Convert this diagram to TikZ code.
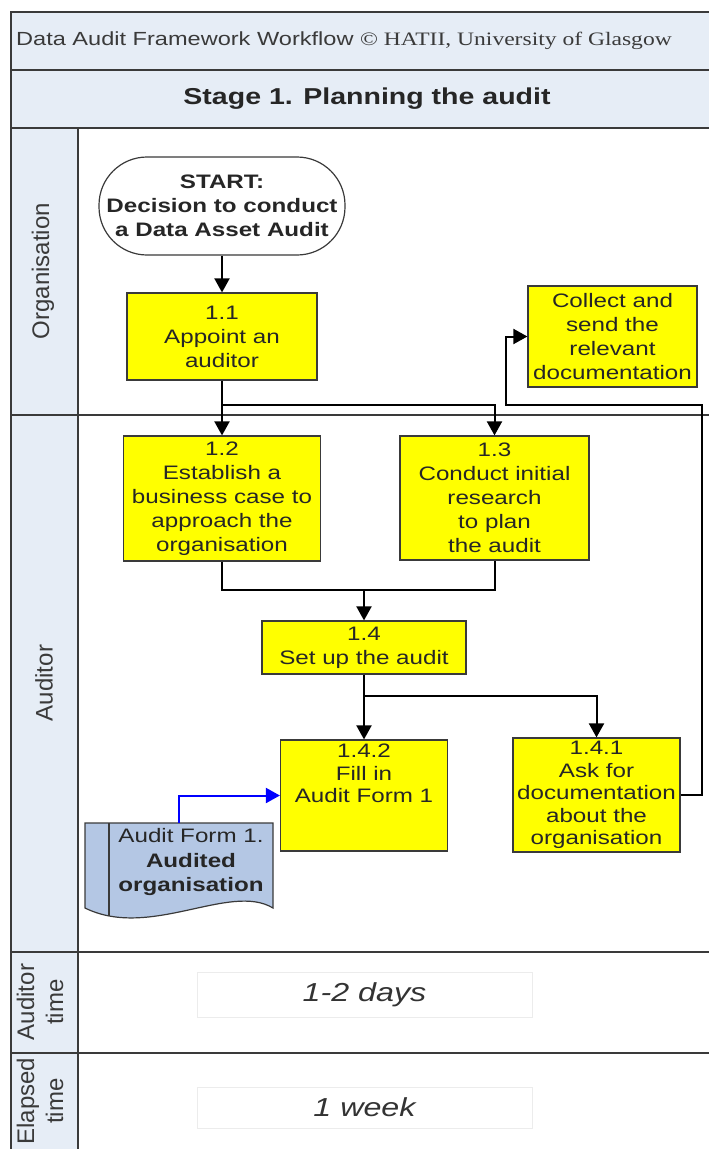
\documentclass[tikz,border=0pt]{standalone}
\usepackage{fontspec}
\setmainfont{Liberation Sans}[FakeStretch=1.24]
\newfontfamily\glasgowfont{Liberation Serif}[FakeStretch=1.24]
\newfontfamily\lanefont{Liberation Sans}
\usetikzlibrary{arrows.meta}
\definecolor{lanebg}{HTML}{E6EDF6}
\definecolor{framegrey}{HTML}{3A3A3A}
\definecolor{stepyellow}{HTML}{FFFF00}
\definecolor{formblue}{HTML}{B4C7E4}
\definecolor{faintgrey}{HTML}{ECECEC}
\begin{document}
\begin{tikzpicture}
[x = 1pt, y = -1pt,
laneline/.style = {draw = framegrey, line width = 1.6pt},
stepbox/.style = {draw = framegrey, fill = stepyellow, line width = 1.2pt, align = center, inner sep = 0pt, text = black!85, font = \fontsize{19.5}{24}\selectfont},
tightbox/.style = {stepbox, font = \fontsize{19.5}{22.5}\selectfont},
startbox/.style = {stepbox, fill = white, rounded corners = 48pt, font = \bfseries\fontsize{19.5}{24}\selectfont},
lanelabel/.style = {rotate = 90, align = center, text = framegrey, font = \lanefont\fontsize{24}{29}\selectfont},
timebox/.style = {draw = faintgrey, line width = 0.8pt, minimum width = 335pt, text = black!80, font = \itshape\fontsize{26}{30}\selectfont},
flow/.style = {draw, line width = 2pt, -{Triangle[length = 14pt, width = 15pt]}},
link/.style = {draw, line width = 2pt},
bluelink/.style = {flow, blue},
docline/.style = {draw = framegrey, line width = 1.2pt},
]\useasboundingbox (0,0) rectangle (709,1149);
\fill[lanebg] (11,12) rectangle (709,128);
\fill[lanebg] (11,128) rectangle (78,1149);
\draw[laneline] (709,12) -- (11,12) -- (11,1149);
\draw[laneline] (11,70) -- (709,70);
\draw[laneline] (11,128) -- (709,128);
\draw[laneline] (78,128) -- (78,1149);
\draw[laneline] (11,415) -- (709,415);
\draw[laneline] (11,952) -- (709,952);
\draw[laneline] (11,1053) -- (709,1053);
\node[anchor = west, inner sep = 0pt, text = framegrey, font = \fontsize{19}{22}\selectfont] (header) at (16,41) {Data Audit Framework Workflow {\glasgowfont © HATII, University of Glasgow}};
\node[font = \bfseries\fontsize{23}{27}\selectfont, text = black!85] (stagetitle) at (367,99) {Stage 1. Planning the audit};
\node[lanelabel] (orglabel) at (43,271) {Organisation};
\node[lanelabel] (auditorlabel) at (44,683) {Auditor};
\node[lanelabel] (auditortime) at (40,1002) {Auditor\\time};
\node[lanelabel] (elapsedtime) at (40,1101) {Elapsed\\time};
\node[startbox, minimum width = 246pt, minimum height = 98pt] (start) at (222,206) {START:\\Decision to conduct\\a Data Asset Audit};
\node[stepbox, minimum width = 190pt, minimum height = 87pt] (n11) at (222,336.5) {1.1\\Appoint an\\auditor};
\node[stepbox, minimum width = 169pt, minimum height = 101pt] (collect) at (612.5,336.5) {Collect and\\send the\\relevant\\documentation};
\node[stepbox, minimum width = 197pt, minimum height = 125pt] (n12) at (222,498.5) {1.2\\Establish a\\business case to\\approach the\\organisation};
\node[stepbox, minimum width = 189pt, minimum height = 124pt] (n13) at (494.5,498) {1.3\\Conduct initial\\research\\to plan\\the audit};
\node[stepbox, minimum width = 204pt, minimum height = 53pt] (n14) at (364,647.5) {1.4\\Set up the audit};
\node[tightbox, minimum width = 167pt, minimum height = 111pt] (n142) at (364,795.5) {1.4.2\\Fill in\\Audit Form 1\\[15pt]\strut};
\node[tightbox, minimum width = 167pt, minimum height = 114pt] (n141) at (596.5,795) {1.4.1\\Ask for\\documentation\\about the\\organisation};
\draw[docline, fill = formblue] (85,823) -- (273,823) -- (273,908) .. controls (230,882) and (150,940) .. (85,908) -- cycle;
\draw[docline] (109,823) -- (109,916);
\node[minimum width = 188pt, minimum height = 95pt, inner sep = 0pt] (form) at (179,870.5) {};
\node[align = center, text = black!85, font = \fontsize{19.5}{24.5}\selectfont] (formtext) at (191,862) {Audit Form 1.\\\textbf{Audited}\\\textbf{organisation}};
\node[timebox, minimum height = 45pt] (auditordays) at (364.5,994.5) {1-2 days};
\node[timebox, minimum height = 41pt] (elapsedweek) at (364.5,1107.5) {1 week};
\coordinate (split1) at (222,405);
\coordinate (merge) at (364,590);
\coordinate (split2) at (364,696);
\coordinate (retcorner) at (702,405);
\coordinate (ret) at (506,405);
\draw[flow] (start) -- (n11);
\draw[flow] (n11) -- (n12);
\draw[flow] (split1) -| (n13);
\draw[link] (n12) |- (merge) -| (n13);
\draw[flow] (merge) -- (n14);
\draw[flow] (n14) -- (n142);
\draw[flow] (split2) -| (n141);
\draw[flow] (n141) -| (retcorner) -- (ret) |- (collect);
\draw[bluelink] (form) |- (n142);
\end{tikzpicture}
\end{document}
